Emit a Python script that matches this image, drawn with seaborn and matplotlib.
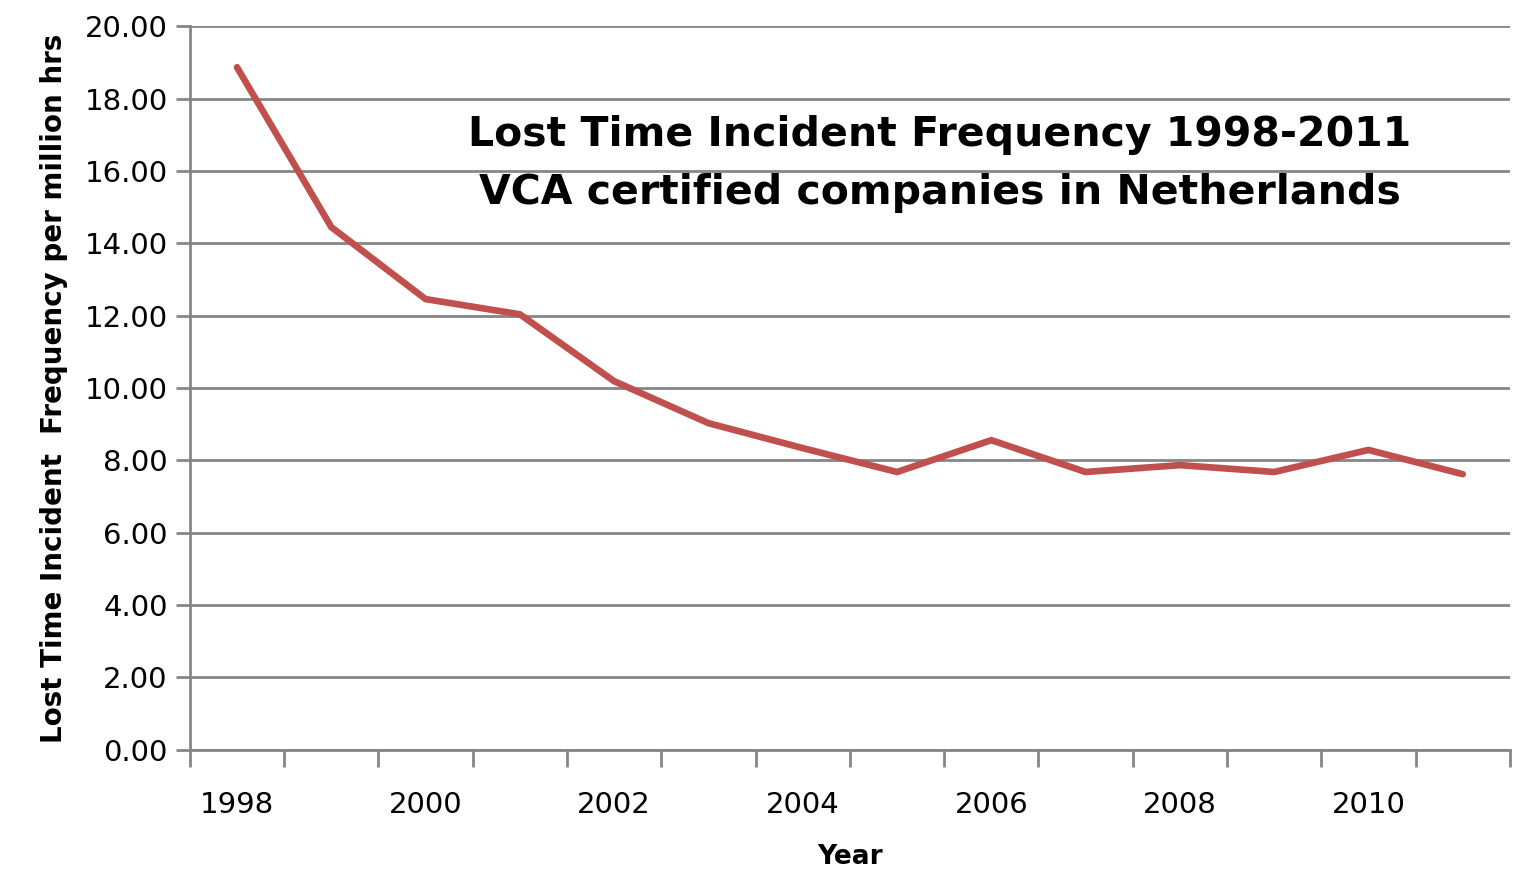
import matplotlib
matplotlib.use("Agg")
import matplotlib.pyplot as plt
import numpy as np
import pandas as pd
import seaborn as sns

# donnees
years = [1998, 1999, 2000, 2001, 2002, 2003, 2004, 2005, 2006, 2007, 2008, 2009, 2010, 2011]
ltif = [18.87, 14.45, 12.46, 12.04, 10.19, 9.03, 8.34, 7.68, 8.56, 7.68, 7.87, 7.68, 8.29, 7.62]
year_labels = [1998, 2000, 2002, 2004, 2006, 2008, 2010]
y_ticks = [0, 2, 4, 6, 8, 10, 12, 14, 16, 18, 20]

df = pd.DataFrame({"Year": years, "LTIF": ltif})

sns.set_style("white")
plt.rcParams["font.family"] = ["DejaVu Sans"]
plt.rcParams["text.color"] = "black"
plt.rcParams["axes.labelcolor"] = "black"
plt.rcParams["xtick.color"] = "black"
plt.rcParams["ytick.color"] = "black"

grey = "#868686"
fig = plt.figure(figsize=(15.19, 8.8), dpi=100)
ax = fig.add_axes([0.125, 0.148, 0.869, 0.822])

sns.lineplot(data=df, x="Year", y="LTIF", color="#C0504D", linewidth=4.8, ax=ax)

ax.set_xlim(years[0] - 0.5, years[-1] + 0.5)
ax.set_ylim(0, 20)
ax.set_yticks(y_ticks)
ax.set_yticklabels([f"{v:.2f}" for v in y_ticks], fontsize=21)
ax.set_xticks(year_labels)
ax.set_xticklabels([str(y) for y in year_labels], fontsize=21)
ax.set_xticks(np.arange(years[0] - 0.5, years[-1] + 1), minor=True)
ax.tick_params(axis="x", which="major", bottom=True, length=0, pad=30)
ax.tick_params(axis="x", which="minor", bottom=True, length=12, width=2,
               color=grey, direction="out")
ax.tick_params(axis="y", left=True, length=10, width=2, color=grey,
               labelcolor="black", direction="out", pad=6)

ax.grid(axis="y", color=grey, linewidth=2)
ax.grid(axis="x", visible=False)
ax.set_axisbelow(True)
for side in ["top", "right"]:
    ax.spines[side].set_visible(False)
for side in ["left", "bottom"]:
    ax.spines[side].set_color(grey)
    ax.spines[side].set_linewidth(2)

ax.set_xlabel("Year", fontsize=19, fontweight="bold", labelpad=18)
ax.set_ylabel("Lost Time Incident  Frequency per million hrs", fontsize=20,
              fontweight="bold", labelpad=12)

titre = "Lost Time Incident Frequency 1998-2011\nVCA certified companies in Netherlands"
ax.text(0.568, 0.81, titre, transform=ax.transAxes, ha="center", va="center",
        fontsize=29.5, fontweight="bold", linespacing=1.6, color="black")

fig.savefig("out.png", dpi=100)
